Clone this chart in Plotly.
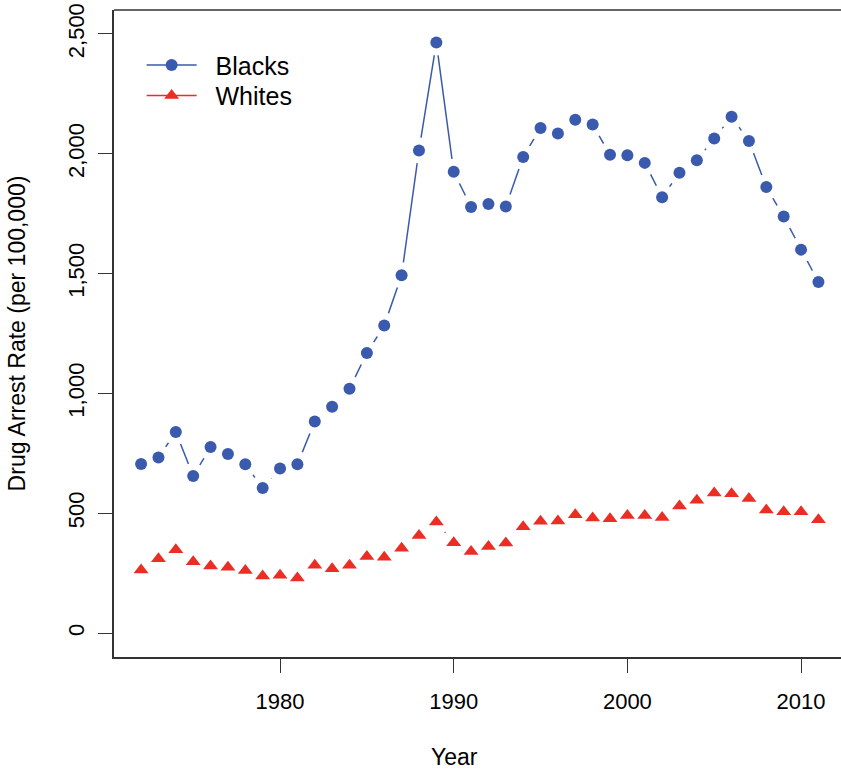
import plotly.graph_objects as go

years = list(range(1972, 2012))
blacks = [705, 733, 839, 655, 776, 747, 704, 605, 687, 704,
          883, 944, 1019, 1169, 1283, 1493, 2014, 2464, 1925, 1778,
          1790, 1780, 1987, 2108, 2085, 2142, 2122, 1996, 1994, 1962,
          1819, 1921, 1973, 2064, 2155, 2053, 1861, 1738, 1600, 1465]
whites = [263, 310, 348, 298, 280, 275, 261, 238, 241, 230,
          283, 268, 283, 319, 316, 354, 407, 463, 377, 340,
          361, 376, 444, 467, 468, 494, 480, 477, 490, 490,
          482, 530, 554, 584, 581, 561, 513, 506, 506, 473]
x_ticks = [1980, 1990, 2000, 2010]
y_ticks = [0, 500, 1000, 1500, 2000, 2500]
y_ticklabels = ["0", "500", "1,000", "1,500", "2,000", "2,500"]

BLUE = "#3A5AAD"
RED = "#EC2D24"
AXIS = "#333"
FONT = "Liberation Sans, Arial, sans-serif"
NB = "\u00a0\u00a0"

fig = go.Figure()
# lines (with legend entries)
fig.add_trace(go.Scatter(x=years, y=blacks, mode="lines+markers", name=NB + "Blacks",
                         legend="legend",
                         line=dict(color=BLUE, width=1.5),
                         marker=dict(symbol="circle", size=12, color=BLUE)))
fig.add_trace(go.Scatter(x=years, y=whites, mode="lines+markers", name=NB + "Whites",
                         legend="legend2",
                         line=dict(color=RED, width=1.5),
                         marker=dict(symbol="triangle-up", size=13, color=RED)))
# white masks to create gaps around points (R type="b")
for ser in (blacks, whites):
    fig.add_trace(go.Scatter(x=years, y=ser, mode="markers", showlegend=False,
                             hoverinfo="skip",
                             marker=dict(symbol="circle", size=26, color="white")))
# points on top
fig.add_trace(go.Scatter(x=years, y=blacks, mode="markers", showlegend=False,
                         marker=dict(symbol="circle", size=12, color=BLUE)))
fig.add_trace(go.Scatter(x=years, y=whites, mode="markers", showlegend=False,
                         marker=dict(symbol="triangle-up", size=13, color=RED)))

leg_common = dict(xanchor="left", yanchor="top", bgcolor="rgba(0,0,0,0)",
                  font=dict(size=25), itemwidth=50)

fig.update_layout(
    width=841, height=772,
    margin=dict(l=114, r=0, t=10, b=114.5),
    plot_bgcolor="white", paper_bgcolor="white",
    font=dict(family=FONT, color="black", size=22),
    legend=dict(x=0.038, y=0.950, **leg_common),
    legend2=dict(x=0.038, y=0.903, **leg_common),
    xaxis=dict(range=[1970.44, 2012.3], tickvals=x_ticks,
               ticks="outside", ticklen=14, tickwidth=1.2, tickcolor=AXIS,
               showline=True, linecolor=AXIS, linewidth=1.5, mirror=False,
               showgrid=False, zeroline=False,
               tickfont=dict(size=22), ticklabelstandoff=10),
    yaxis=dict(range=[-100, 2600], tickvals=y_ticks, ticktext=y_ticklabels,
               tickangle=-90, ticklabeloverflow="allow",
               ticks="outside", ticklen=14, tickwidth=1.2, tickcolor=AXIS,
               showline=True, linecolor=AXIS, linewidth=1.5, mirror=False,
               showgrid=False, zeroline=False,
               tickfont=dict(size=22), ticklabelstandoff=5,
               title=dict(text="Drug Arrest Rate (per 100,000)", font=dict(size=23), standoff=32)),
    shapes=[dict(type="line", xref="paper", yref="paper", x0=0, x1=1, y0=1, y1=1,
                 line=dict(color=AXIS, width=1.5))],
    annotations=[dict(text="Year", xref="paper", yref="paper", x=0.469, y=-0.155,
                      xanchor="center", yanchor="middle", showarrow=False,
                      font=dict(size=23))],
)

fig.write_html("out.html",
               config={"displayModeBar": False},
               post_script="document.documentElement.style.overflow='hidden';"
                           "document.body.style.margin='0';")
